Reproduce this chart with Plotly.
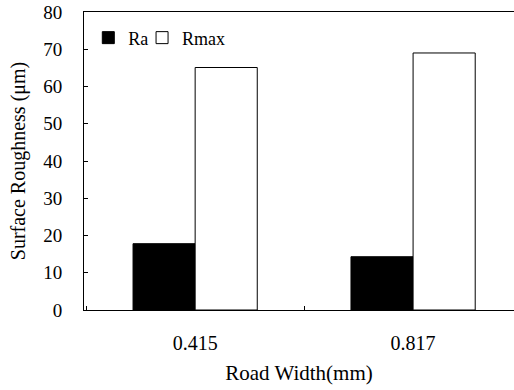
import plotly.graph_objects as go

categories = ["0.415", "0.817"]
ra_values = [17.8, 14.3]
rmax_values = [65.1, 69.0]
y_ticks = [0, 10, 20, 30, 40, 50, 60, 70, 80]

font = dict(family="Liberation Serif, Times New Roman, serif", color="black")

fig = go.Figure()
fig.add_trace(go.Bar(name="Ra", x=categories, y=ra_values, legend="legend", showlegend=True,
                     marker=dict(color="black", line=dict(color="black", width=1))))
fig.add_trace(go.Bar(name="Rmax", x=categories, y=rmax_values, legend="legend2", showlegend=True,
                     marker=dict(color="white", line=dict(color="black", width=1))))

leg_common = dict(orientation="h", yanchor="middle", xanchor="left", itemwidth=30,
                  font=dict(size=18, **font), bgcolor="rgba(0,0,0,0)", visible=True)

fig.update_layout(
    width=514, height=390,
    margin=dict(l=84, r=0, t=12, b=80),
    paper_bgcolor="white", plot_bgcolor="white",
    showlegend=True,
    barmode="group", bargap=0.43, bargroupgap=0,
    font=dict(size=18, **font),
    legend=dict(x=0.01, y=0.913, **leg_common),
    legend2=dict(x=0.135, y=0.913, **leg_common),
    xaxis=dict(range=[-0.51, 1.463], showline=True, linecolor="black", linewidth=1,
               mirror=True, ticks="inside", ticklen=4, tickson="boundaries",
               tickcolor="black", showgrid=False, ticklabelstandoff=15, automargin=False,
               tickfont=dict(size=20, **font),
               title=dict(text="Road Width(mm)", font=dict(size=21, **font), standoff=12)),
    yaxis=dict(range=[0, 80], tickvals=y_ticks, showline=True, linecolor="black",
               linewidth=1, ticks="inside", ticklen=4, tickcolor="black", mirror=False,
               showgrid=False, zeroline=False, ticklabelstandoff=17, automargin=False,
               tickfont=dict(size=19, **font),
               title=dict(text="Surface Roughness (μm)", font=dict(size=20, **font), standoff=12)),
)

fig.write_html("out.html", config={"displayModeBar": False},
               post_script="document.body.style.margin='0';document.body.style.overflow='hidden';"
                           "document.documentElement.style.overflow='hidden';")
